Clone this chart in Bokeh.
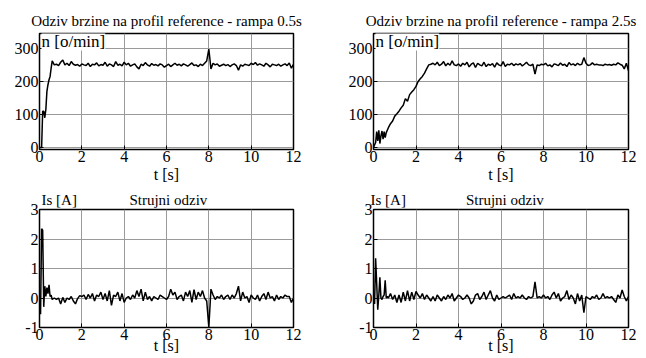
from bokeh.plotting import figure
from bokeh.layouts import column, row
from bokeh.models import FixedTicker, CustomJSTickFormatter, Label
from bokeh.embed import file_html
from bokeh.resources import INLINE

# ---------------- data ----------------
# speed response, ramp 0.5 s
t_n1_start = [0.0, 0.1, 0.15, 0.2, 0.25, 0.3, 0.35, 0.4, 0.45, 0.5, 0.55, 0.6, 0.7]
n1_start = [0, 0, 110, 110, 90, 115, 170, 190, 205, 215, 240, 262, 250]
n1_steady = [
    252, 248, 258, 265, 250, 255, 248, 260, 252, 249,
    251, 246, 253, 250, 248, 255, 245, 252, 250, 256,
    247, 251, 249, 258, 246, 253, 250, 245, 260, 249,
    252, 247, 258, 250, 255, 246, 250, 253, 244, 238,
    252, 248, 257, 250, 246, 254, 249, 251, 247, 253,
    250, 243, 248, 252, 245, 250, 255, 249, 252, 247,
    253, 250, 246, 251, 256, 248, 250, 245, 252, 248,
    255, 262, 298, 238, 255, 250, 253, 246, 249, 252,
    248, 251, 245, 250, 253, 248, 234, 250, 246, 252,
    250, 248, 255, 251, 257, 249, 253, 250, 246, 255,
    250, 244, 252, 250, 248, 252, 246, 250, 253, 248,
    256, 240, 252,
]
t_n1_steady = [round(0.8 + 0.1 * i, 2) for i in range(len(n1_steady))]

# speed response, ramp 2.5 s
t_n2_start = [0.0, 0.1, 0.15, 0.2, 0.25, 0.3, 0.35, 0.4, 0.45, 0.5, 0.55, 0.6, 0.7,
              0.8, 0.9, 1.0, 1.1, 1.2, 1.3, 1.4, 1.5, 1.6, 1.7, 1.8, 1.9, 2.0,
              2.1, 2.2, 2.3, 2.4, 2.5, 2.6, 2.7]
n2_start = [0, 15, 48, 20, 52, 12, 35, 50, 25, 48, 30, 45, 60,
            72, 80, 95, 102, 110, 120, 128, 148, 140, 160, 168, 175, 185,
            200, 208, 215, 225, 238, 250, 252]
n2_steady = [
    255, 250, 258, 248, 252, 260, 247, 255, 249, 262,
    250, 248, 253, 246, 255, 250, 258, 244, 252, 256,
    242, 255, 250, 247, 258, 245, 252, 249, 254, 243,
    256, 250, 247, 260, 245, 252, 250, 255, 248, 253,
    250, 254, 247, 252, 258, 250, 248, 252, 222, 250,
    248, 252, 250, 255, 247, 250, 244, 253, 251, 248,
    256, 249, 252, 245, 257, 250, 253, 248, 255, 250,
    252, 272, 255, 248, 250, 256, 250, 252, 250, 250,
    248, 252, 250, 251, 249, 252, 250, 256, 252, 249,
    238, 255, 232,
]
t_n2_steady = [round(2.8 + 0.1 * i, 2) for i in range(len(n2_steady))]

# current response, ramp 0.5 s
t_i1_start = [0.0, 0.05, 0.1, 0.15, 0.2, 0.25, 0.3, 0.35, 0.4, 0.45, 0.5, 0.55, 0.6, 0.7]
i1_start = [0, -0.55, 2.35, 2.3, -0.3, 0.4, 0.05, 0.35, 0.15, 0.45, 0.05, 0.1, -0.05, 0.0]
i1_steady = [
    -0.05, 0.0, -0.2, 0.02, -0.15, 0.0, -0.05, 0.05, -0.1, -0.2,
    -0.02, 0.08, 0.05, 0.1, -0.05, 0.12, 0.0, 0.15, -0.1, 0.1,
    0.05, 0.2, -0.05, 0.15, -0.1, 0.25, -0.25, 0.1, 0.05, 0.2,
    -0.1, 0.15, -0.15, 0.0, 0.05, -0.05, 0.1, 0.0, 0.25, 0.05,
    0.3, -0.1, 0.2, -0.05, 0.05, -0.1, 0.05, 0.0, -0.05, 0.1,
    0.05, 0.0, -0.05, 0.05, 0.3, 0.1, 0.2, -0.05, 0.05, 0.1,
    -0.1, 0.2, 0.05, 0.25, -0.15, 0.28, -0.05, 0.2, 0.05, 0.25,
    0.0, -0.1, -1.0, 0.3, 0.1, -0.05, 0.05, 0.0, 0.1, -0.05,
    0.05, 0.1, -0.05, 0.1, 0.0, 0.15, 0.4, -0.1, 0.2, 0.0,
    0.05, -0.15, 0.1, 0.0, -0.05, 0.1, -0.1, 0.05, 0.15, -0.05,
    0.2, 0.0, 0.05, -0.1, 0.1, -0.05, 0.05, 0.0, 0.1, 0.05,
    0.05, -0.15, 0.0,
]
t_i1_steady = [round(0.8 + 0.1 * i, 2) for i in range(len(i1_steady))]

# current response, ramp 2.5 s
t_i2_start = [0.0, 0.05, 0.1, 0.15, 0.2, 0.25, 0.3, 0.35, 0.4, 0.45, 0.5, 0.55, 0.6, 0.65, 0.7]
i2_start = [0, -0.2, 1.35, 0.5, -0.4, 0.1, 0.7, 0.0, -0.05, 0.05, 0.1, 0.6, 0.0, 0.05, 0.0]
i2_steady = [
    0.15, -0.05, 0.1, -0.15, 0.1, -0.15, 0.2, -0.1, 0.25, -0.1,
    0.2, -0.05, 0.22, 0.1, 0.0, 0.15, -0.05, 0.1, 0.0, -0.1,
    0.05, -0.1, 0.1, 0.0, -0.1, 0.05, -0.05, 0.1, 0.0, 0.15,
    -0.1, 0.0, 0.1, 0.05, -0.05, 0.0, 0.1, 0.0, -0.2, -0.1,
    0.1, 0.15, -0.05, 0.05, 0.2, -0.05, 0.1, 0.25, 0.0, -0.1,
    0.1, -0.05, 0.0, 0.05, 0.0, 0.05, 0.1, -0.05, 0.15, 0.0,
    0.05, 0.0, 0.1, 0.0, -0.05, 0.05, 0.0, 0.05, 0.55, 0.0,
    0.05, 0.0, 0.1, 0.0, 0.05, -0.05, 0.1, 0.2, 0.0, 0.15,
    -0.1, 0.0, 0.05, 0.25, -0.05, 0.1, 0.0, -0.2, 0.15, -0.1,
    0.1, -0.5, 0.05, 0.0, -0.05, 0.05, 0.0, 0.1, -0.05, 0.0,
    0.15, 0.0, 0.05, 0.0, 0.05, -0.05, -0.15, 0.1, 0.0, 0.27,
    0.05, -0.1, 0.05,
]
t_i2_steady = [round(0.8 + 0.1 * i, 2) for i in range(len(i2_steady))]

x_ticks = [0, 2, 4, 6, 8, 10, 12]
n_ticks = [0, 100, 200, 300]
i_ticks = [-1, 0, 1, 2, 3]

title_speed_1 = "Odziv brzine na profil reference - rampa 0.5s"
title_speed_2 = "Odziv brzine na profil reference - rampa 2.5s"
title_current = "Strujni odziv"
n_label = "n [o/min]"
i_label = "Is [A]"
x_label = "t [s]"

FONT = "Liberation Serif"
GRID = "#9a9a9a"
NBSP = "\u00a0"


def make_fig(title, w, h, bl, br, bt, bb, yr, yticks, align="center", offset=0,
             standoff=5, label_standoff=0):
    p = figure(width=w, height=h, x_range=(0, 12), y_range=yr,
               output_backend="svg", toolbar_location=None,
               min_border_left=bl, min_border_right=br,
               min_border_top=bt, min_border_bottom=bb)
    p.title.text = title
    p.title.align = align
    p.title.offset = offset
    p.title.text_font = FONT
    p.title.text_font_style = "normal"
    p.title.text_font_size = "15px"
    p.title.text_color = "black"
    p.title.standoff = standoff
    p.outline_line_color = "black"
    p.outline_line_width = 1.5
    p.background_fill_color = "white"
    p.border_fill_color = "white"
    p.xaxis.ticker = FixedTicker(ticks=x_ticks)
    p.yaxis.ticker = FixedTicker(ticks=yticks)
    p.axis.formatter = CustomJSTickFormatter(code="return tick.toString();")
    p.axis.axis_line_color = None
    p.axis.major_tick_in = 4
    p.axis.major_tick_out = 0
    p.axis.minor_tick_line_color = None
    p.axis.major_tick_line_color = "black"
    p.axis.major_label_text_font = FONT
    p.axis.major_label_text_font_style = "normal"
    p.axis.major_label_text_font_size = "16px"
    p.axis.major_label_text_color = "black"
    p.axis.major_label_standoff = 1
    p.xaxis.axis_label = x_label
    p.xaxis.axis_label_text_font = FONT
    p.xaxis.axis_label_text_font_style = "normal"
    p.xaxis.axis_label_text_font_size = "16px"
    p.xaxis.axis_label_text_color = "black"
    p.xaxis.axis_label_standoff = label_standoff
    p.grid.grid_line_color = GRID
    p.grid.grid_line_width = 1
    return p


p1 = make_fig(title_speed_1, 338, 186, 39, 45, 33, 37, (-6, 345), n_ticks,
              standoff=10, label_standoff=1)
p1.line(t_n1_start + t_n1_steady, n1_start + n1_steady, line_color="black", line_width=1.5)
p1.add_layout(Label(x=0, y=345, x_offset=2, y_offset=2, text=n_label, text_baseline="top",
                    text_font=FONT, text_font_size="17px", text_color="black",
                    background_fill_color="white"))

p2 = make_fig(title_speed_2, 308, 186, 35, 18, 33, 37, (-6, 345), n_ticks,
              standoff=10, label_standoff=1)
p2.line(t_n2_start + t_n2_steady, n2_start + n2_steady, line_color="black", line_width=1.5)
p2.add_layout(Label(x=0, y=345, x_offset=2, y_offset=2, text=n_label, text_baseline="top",
                    text_font=FONT, text_font_size="17px", text_color="black",
                    background_fill_color="white"))

# current plots: unit label and title share the line above the frame
p3 = make_fig(i_label + NBSP * 14 + title_current, 338, 172, 39, 45, 23, 31, (-1, 3),
              i_ticks, align="left", offset=2, standoff=4, label_standoff=-6)
p3.line(t_i1_start + t_i1_steady, i1_start + i1_steady, line_color="black", line_width=1.5)

p4 = make_fig(i_label + NBSP * 16 + title_current, 308, 172, 35, 18, 23, 31, (-1, 3),
              i_ticks, align="left", offset=-3, standoff=4, label_standoff=-6)
p4.line(t_i2_start + t_i2_steady, i2_start + i2_steady, line_color="black", line_width=1.5)

layout = column(row(p1, p2), row(p3, p4))
open("out.html", "w").write(file_html(layout, INLINE))
